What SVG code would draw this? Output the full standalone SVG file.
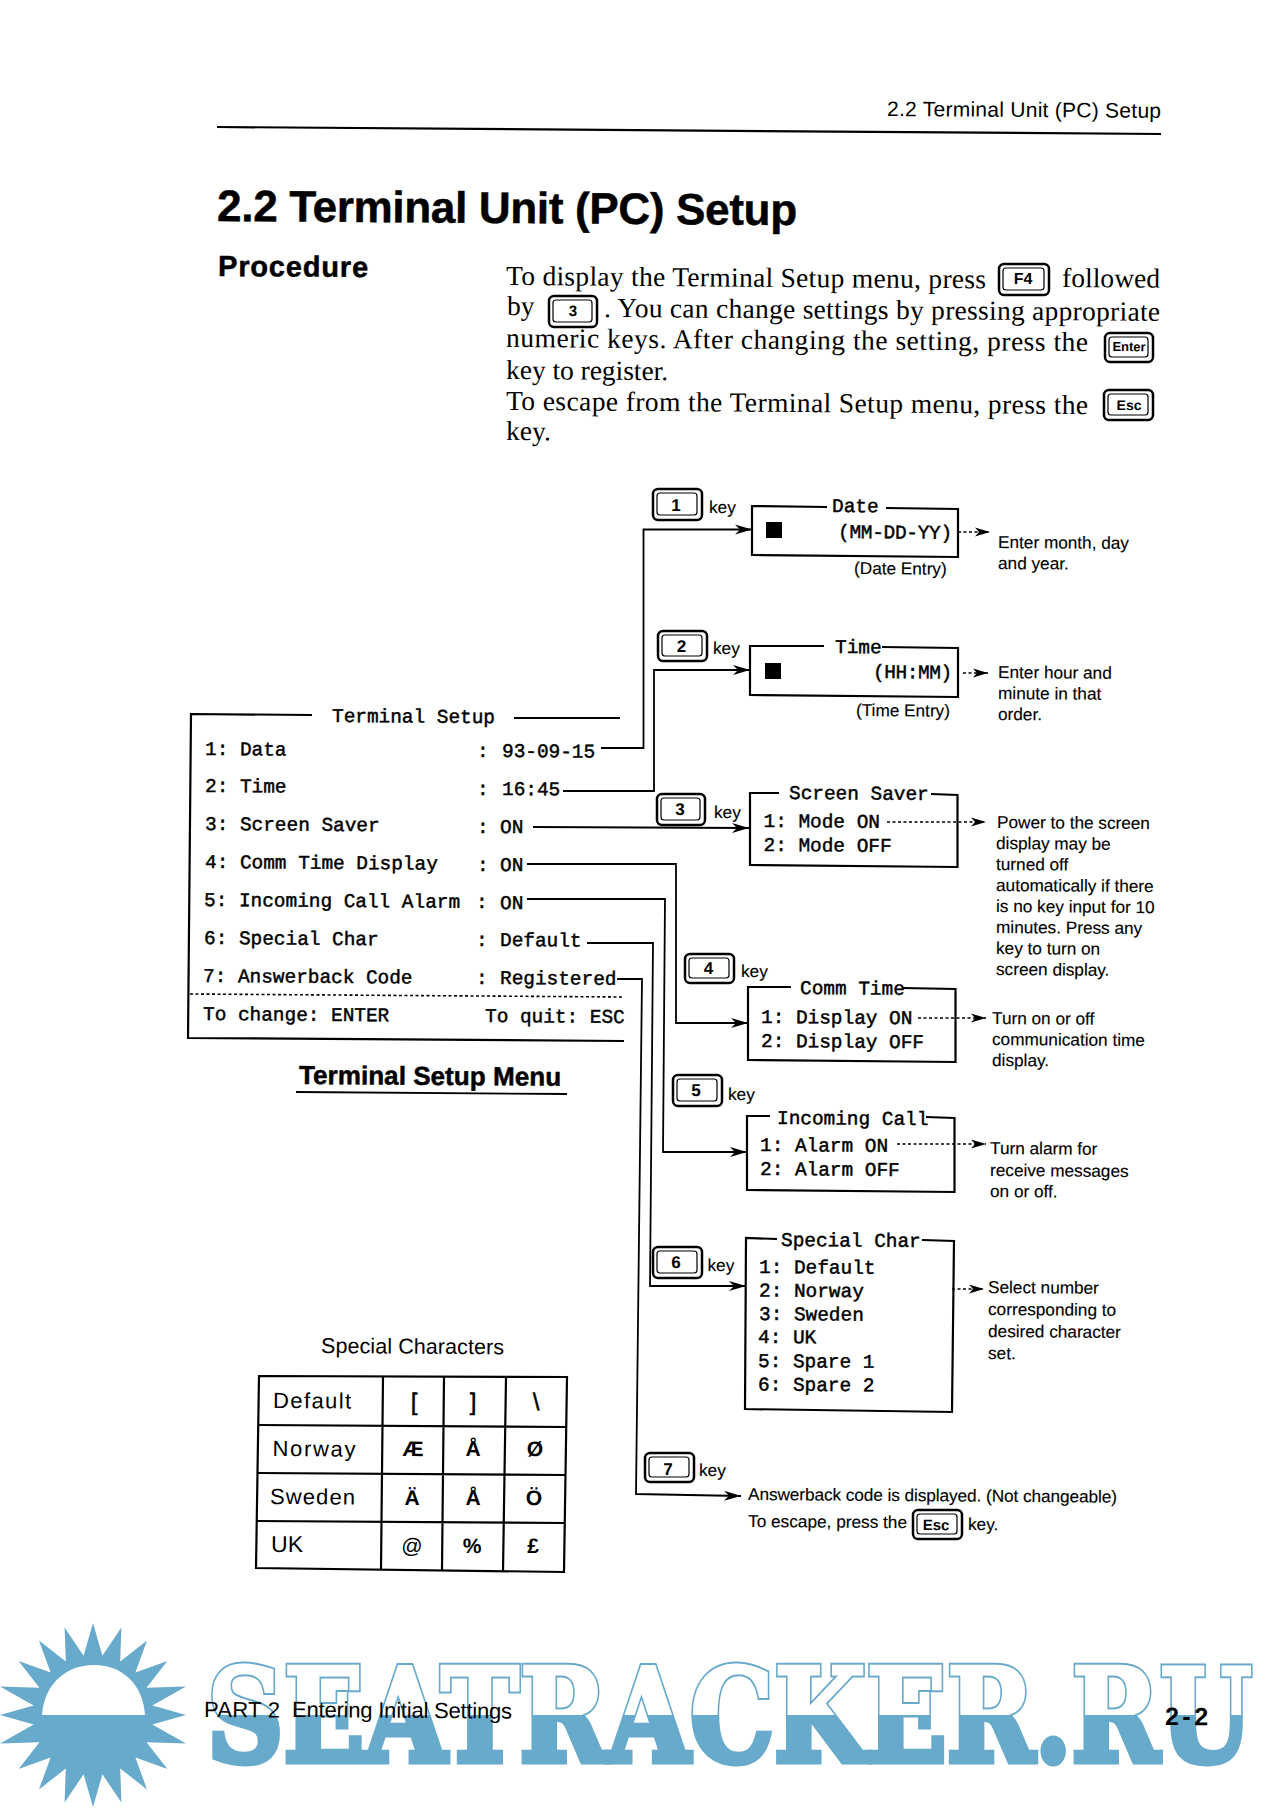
<svg xmlns="http://www.w3.org/2000/svg" width="1278" height="1809" viewBox="0 0 1278 1809">
<style>
text{fill:#000;font-family:"Liberation Sans",Arial,sans-serif;transform-box:fill-box;transform-origin:0 100%;transform:rotate(.4deg)}
.t{font-size:17.2px;stroke:#000;stroke-width:.15px}
.m{font-family:"Liberation Mono","Courier New",monospace;font-size:19.4px;stroke:#000;stroke-width:.45px}
.s{font-family:"Liberation Serif","Times New Roman",serif;font-size:27.5px}
.k{font-size:17px;font-weight:bold;text-anchor:middle}
.ks{font-size:13px;font-weight:bold;text-anchor:middle}
.c{font-size:20px;font-weight:bold;text-anchor:middle}
.br{font-size:24px;font-weight:normal;stroke:#000;stroke-width:.5px}
.r{font-size:22px}
.hv{font-weight:bold;stroke:#000;stroke-width:.5px}
.b,.l{fill:none;stroke:#000;stroke-width:2.2px}
.l{stroke-width:1.8px}
.d{fill:none;stroke:#000;stroke-width:1.6px;stroke-dasharray:3 2.5}
.ko{fill:#fff;stroke:#000;stroke-width:2.5px}
.ki{fill:none;stroke:#000;stroke-width:1.2px}
.w{font-family:"DejaVu Serif",serif;font-weight:bold;font-size:130px;transform:none}
.sun{fill:#68aacb}
</style>
<defs>
<marker id="a" markerUnits="userSpaceOnUse" markerWidth="20" markerHeight="14" refX="18" refY="7" orient="auto"><path d="M1 2L18 7L1 12L6 7z"/></marker>
<marker id="h" markerUnits="userSpaceOnUse" markerWidth="18" markerHeight="12" refX="16" refY="6" orient="auto"><path d="M1 1.5L16 6L1 10.5L5 6z"/></marker>
<clipPath id="up"><rect x="190" y="1650" width="1088" height="65"/></clipPath>
<clipPath id="lo"><rect x="190" y="1715" width="1088" height="70"/></clipPath>
</defs>

<g id="watermark">
<polygon class="sun" points="93,1623 102.4,1655.7 121.4,1627.5 120.2,1661.5 147,1640.6 135.4,1672.6 167.4,1660.9 146.5,1687.8 186,1686.6 152.3,1705.6 186,1715 152.3,1724.4 186,1743.4 146.5,1742.2 167.4,1769.1 135.4,1757.4 147,1789.4 120.2,1768.5 121.4,1802.5 102.4,1774.3 93,1807 83.6,1774.3 64.6,1802.5 65.8,1768.5 39,1789.4 50.6,1757.4 18.6,1769.1 39.5,1742.2 0,1743.4 33.7,1724.4 0,1715 33.7,1705.6 0,1686.6 39.5,1687.8 18.6,1660.9 50.6,1672.6 39,1640.6 65.8,1661.5 64.6,1627.5 83.6,1655.7"/>
<path fill="#fff" d="M42 1715C44 1685 65 1665 94 1665C123 1665 143 1685 145 1715z"/>
<text class="w" x="207" y="1761" textLength="1045" lengthAdjust="spacingAndGlyphs" clip-path="url(#up)" style="fill:#68aacb;stroke:#68aacb;stroke-width:7px">SEATRACKER.RU</text>
<text class="w" x="207" y="1761" textLength="1045" lengthAdjust="spacingAndGlyphs" clip-path="url(#up)" style="fill:#fff;stroke:#fff;stroke-width:3px">SEATRACKER.RU</text>
<text class="w" x="207" y="1761" textLength="1045" lengthAdjust="spacingAndGlyphs" clip-path="url(#lo)" style="fill:#68aacb;stroke:#68aacb;stroke-width:7px">SEATRACKER.RU</text>
</g>

<g id="header">
<text x="887" y="116" font-size="21" textLength="274">2.2 Terminal Unit (PC) Setup</text>
<path class="b" d="M217 127L1161 134"/>
<text class="hv" x="217" y="221" font-size="44" textLength="580">2.2 Terminal Unit (PC) Setup</text>
<text class="hv" x="218" y="276" font-size="29" textLength="150">Procedure</text>
</g>

<g id="procedure">
<text class="s" x="506" y="285" textLength="480">To display the Terminal Setup menu, press</text>
<rect class="ko" x="999" y="264" width="50" height="31" rx="5"/><rect class="ki" x="1003" y="268" width="41" height="22" rx="3"/>
<text class="ks" x="1023" y="284" style="font-size:16px">F4</text>
<text class="s" x="1062" y="287" textLength="98">followed</text>
<text class="s" x="507" y="315">by</text>
<rect class="ko" x="549" y="296" width="48" height="31" rx="5"/><rect class="ki" x="553" y="300" width="39" height="22" rx="3"/>
<text class="ks" x="573" y="316" style="font-size:15px">3</text>
<text class="s" x="604" y="317" textLength="556">. You can change settings by pressing appropriate</text>
<text class="s" x="506" y="347" textLength="582">numeric keys. After changing the setting, press the</text>
<rect class="ko" x="1105" y="333" width="48" height="29" rx="5"/><rect class="ki" x="1109" y="337" width="39" height="20" rx="3"/>
<text class="ks" x="1129" y="351">Enter</text>
<text class="s" x="506" y="379" textLength="162">key to register.</text>
<text class="s" x="506" y="410" textLength="582">To escape from the Terminal Setup menu, press the</text>
<rect class="ko" x="1104" y="390" width="49" height="30" rx="5"/><rect class="ki" x="1108" y="394" width="40" height="21" rx="3"/>
<text class="ks" x="1129" y="410" style="font-size:14px">Esc</text>
<text class="s" x="506" y="440">key.</text>
</g>

<g id="terminal-setup">
<path class="b" d="M312 715L191 714L188 1038L624 1041"/>
<path class="b" d="M514 718L620 718"/>
<path class="d" d="M190 994L624 997"/>
<text class="m" x="332" y="722">Terminal Setup</text>
<text class="m" x="205" y="755">1: Data</text><text class="m" x="477" y="757">:</text><text class="m" x="502" y="757">93-09-15</text>
<text class="m" x="205" y="792">2: Time</text><text class="m" x="477" y="795">:</text><text class="m" x="502" y="795">16:45</text>
<text class="m" x="205" y="830">3: Screen Saver</text><text class="m" x="477" y="833">:</text><text class="m" x="500" y="833">ON</text>
<text class="m" x="205" y="868">4: Comm Time Display</text><text class="m" x="477" y="871">:</text><text class="m" x="500" y="871">ON</text>
<text class="m" x="204" y="906">5: Incoming Call Alarm</text><text class="m" x="476" y="908">:</text><text class="m" x="500" y="909">ON</text>
<text class="m" x="204" y="944">6: Special Char</text><text class="m" x="476" y="946">:</text><text class="m" x="500" y="946">Default</text>
<text class="m" x="203" y="982">7: Answerback Code</text><text class="m" x="476" y="984">:</text><text class="m" x="500" y="984">Registered</text>
<text class="m" x="203" y="1020">To change: ENTER</text><text class="m" x="485" y="1022">To quit: ESC</text>
<text class="hv" x="299" y="1084" font-size="26" textLength="262">Terminal Setup Menu</text>
<path class="l" d="M296 1092L567 1094"/>
</g>

<g id="connectors">
<path class="l" d="M601 748H643.5V529.5H752" marker-end="url(#a)"/>
<path class="l" d="M563 791H654V670H750" marker-end="url(#a)"/>
<path class="l" d="M533 827L749 828" marker-end="url(#a)"/>
<path class="l" d="M527 864H676V1023H748" marker-end="url(#a)"/>
<path class="l" d="M527 899H665L663 1152H747" marker-end="url(#a)"/>
<path class="l" d="M587 943H653L650 1286H746" marker-end="url(#a)"/>
<path class="l" d="M617 979H642L636 1494L741 1496" marker-end="url(#a)"/>
<path class="d" d="M958 532H990" marker-end="url(#h)"/>
<path class="d" d="M963 673H988" marker-end="url(#h)"/>
<path class="d" d="M887 822H986" marker-end="url(#h)"/>
<path class="d" d="M918 1018H986" marker-end="url(#h)"/>
<path class="d" d="M897 1144H986" marker-end="url(#h)"/>
<path class="d" d="M952 1289H984" marker-end="url(#h)"/>
</g>

<g id="key1"><rect class="ko" x="653" y="489" width="49" height="31" rx="5"/><rect class="ki" x="657" y="493" width="40" height="22" rx="3"/><text class="k" x="676" y="511">1</text><text class="t" x="709" y="513">key</text></g>
<g id="key2"><rect class="ko" x="658" y="631" width="49" height="30" rx="5"/><rect class="ki" x="662" y="635" width="40" height="21" rx="3"/><text class="k" x="681.5" y="652">2</text><text class="t" x="713" y="654">key</text></g>
<g id="key3"><rect class="ko" x="657" y="794" width="48" height="31" rx="5"/><rect class="ki" x="661" y="798" width="39" height="22" rx="3"/><text class="k" x="680" y="815">3</text><text class="t" x="714" y="818">key</text></g>
<g id="key4"><rect class="ko" x="685" y="954" width="49" height="29" rx="5"/><rect class="ki" x="689" y="958" width="40" height="20" rx="3"/><text class="k" x="708.5" y="974">4</text><text class="t" x="741" y="977">key</text></g>
<g id="key5"><rect class="ko" x="673" y="1075" width="49" height="31" rx="5"/><rect class="ki" x="677" y="1079" width="40" height="22" rx="3"/><text class="k" x="696" y="1096">5</text><text class="t" x="728" y="1100">key</text></g>
<g id="key6"><rect class="ko" x="653" y="1247" width="49" height="31" rx="5"/><rect class="ki" x="657" y="1251" width="40" height="22" rx="3"/><text class="k" x="676" y="1268">6</text><text class="t" x="707.5" y="1271">key</text></g>
<g id="key7"><rect class="ko" x="645" y="1453" width="49" height="29" rx="5"/><rect class="ki" x="649" y="1457" width="40" height="20" rx="3"/><text class="k" x="668" y="1475">7</text><text class="t" x="699" y="1476">key</text></g>

<g id="date-entry">
<path class="b" d="M827 507L752 506V555L958 557V509L886 508"/>
<text class="m" x="832" y="512">Date</text>
<rect x="766" y="522" width="16" height="16"/>
<text class="m" x="838" y="538" textLength="114">(MM-DD-YY)</text>
<text class="t" x="854" y="574">(Date Entry)</text>
<text class="t" x="998" y="548">Enter month, day</text>
<text class="t" x="998" y="569">and year.</text>
</g>

<g id="time-entry">
<path class="b" d="M824 646L750 646V695L958 697V648L882 647"/>
<text class="m" x="835" y="653">Time</text>
<rect x="765" y="663" width="16" height="16"/>
<text class="m" x="873" y="678" textLength="79">(HH:MM)</text>
<text class="t" x="856" y="716">(Time Entry)</text>
<text class="t" x="998" y="678">Enter hour and</text>
<text class="t" x="998" y="699">minute in that</text>
<text class="t" x="998" y="720">order.</text>
</g>

<g id="screen-saver">
<path class="b" d="M779 793L750 793V865L957.5 867V795L931 794"/>
<text class="m" x="789" y="799">Screen Saver</text>
<text class="m" x="763.5" y="827">1: Mode ON</text>
<text class="m" x="763.5" y="851">2: Mode OFF</text>
<text class="t" x="997" y="828">Power to the screen</text>
<text class="t" x="996" y="849">display may be</text>
<text class="t" x="996" y="870">turned off</text>
<text class="t" x="996" y="891">automatically if there</text>
<text class="t" x="996" y="912">is no key input for 10</text>
<text class="t" x="996" y="933">minutes. Press any</text>
<text class="t" x="996" y="954">key to turn on</text>
<text class="t" x="996" y="975">screen display.</text>
</g>

<g id="comm-time">
<path class="b" d="M791 987L748 987V1060L955.5 1062V989L903 988"/>
<text class="m" x="800" y="994">Comm Time</text>
<text class="m" x="761" y="1023">1: Display ON</text>
<text class="m" x="761" y="1047">2: Display OFF</text>
<text class="t" x="992" y="1024">Turn on or off</text>
<text class="t" x="992" y="1045">communication time</text>
<text class="t" x="992" y="1066">display.</text>
</g>

<g id="incoming-call">
<path class="b" d="M770 1116L747 1116V1190L954.5 1192V1118L926 1117"/>
<text class="m" x="777" y="1124">Incoming Call</text>
<text class="m" x="760" y="1151">1: Alarm ON</text>
<text class="m" x="760" y="1175">2: Alarm OFF</text>
<text class="t" x="990" y="1154">Turn alarm for</text>
<text class="t" x="990" y="1176">receive messages</text>
<text class="t" x="990" y="1197">on or off.</text>
</g>

<g id="special-char">
<path class="b" d="M777 1239L746 1238L745 1409L952 1412L954 1241L922 1240"/>
<text class="m" x="781" y="1246">Special Char</text>
<text class="m" x="759" y="1273">1: Default</text>
<text class="m" x="759" y="1296.5">2: Norway</text>
<text class="m" x="759" y="1320">3: Sweden</text>
<text class="m" x="758" y="1343">4: UK</text>
<text class="m" x="758" y="1367">5: Spare 1</text>
<text class="m" x="758" y="1390.5">6: Spare 2</text>
<text class="t" x="988" y="1293">Select number</text>
<text class="t" x="988" y="1315">corresponding to</text>
<text class="t" x="988" y="1337">desired character</text>
<text class="t" x="988" y="1359">set.</text>
</g>

<g id="answerback">
<text class="t" x="748" y="1500" textLength="369">Answerback code is displayed. (Not changeable)</text>
<text class="t" x="748" y="1527" textLength="159">To escape, press the</text>
<rect class="ko" x="913" y="1510" width="49" height="29" rx="5"/><rect class="ki" x="917" y="1514" width="40" height="20" rx="3"/>
<text class="ks" x="936" y="1530" style="font-size:15px">Esc</text>
<text class="t" x="968" y="1530">key.</text>
</g>

<g id="special-characters">
<text x="321" y="1353" font-size="21.5" textLength="183">Special Characters</text>
<path class="b" d="M259 1376L567 1377L564 1572L256 1568z"/>
<path class="b" d="M258 1425L567 1427M257 1473L566 1475M256 1521L565 1523M383 1377L381 1569M444 1377L442 1570M506 1378L503 1571"/>
<text class="r" x="273" y="1408" textLength="78">Default</text>
<text class="r" x="272.5" y="1456" textLength="83">Norway</text>
<text class="r" x="270" y="1504" textLength="85">Sweden</text>
<text class="r" x="271" y="1552" style="font-size:23px">UK</text>
<text class="c br" x="414" y="1410">[</text><text class="c br" x="473" y="1410">]</text><text class="c br" x="536" y="1410">\</text>
<text class="c" x="413" y="1456" style="font-size:21px">Æ</text><text class="c" x="473" y="1456" style="font-size:21px">Å</text><text class="c" x="535" y="1456" style="font-size:21px">Ø</text>
<text class="c" x="412" y="1505" style="font-size:21px">Ä</text><text class="c" x="473" y="1505" style="font-size:21px">Å</text><text class="c" x="534" y="1505" style="font-size:21px">Ö</text>
<text class="c" x="412" y="1553" style="font-weight:normal;font-size:21px">@</text><text class="c" x="472" y="1553" style="font-size:21px">%</text><text class="c" x="533" y="1553" style="font-size:21px">£</text>
</g>

<g id="footer">
<text x="204" y="1717" font-size="22" textLength="76">PART 2</text>
<text x="292" y="1717" font-size="22" textLength="220">Entering Initial Settings</text>
<text x="1165" y="1725" font-size="25" font-weight="bold" textLength="43">2-2</text>
</g>
</svg>
